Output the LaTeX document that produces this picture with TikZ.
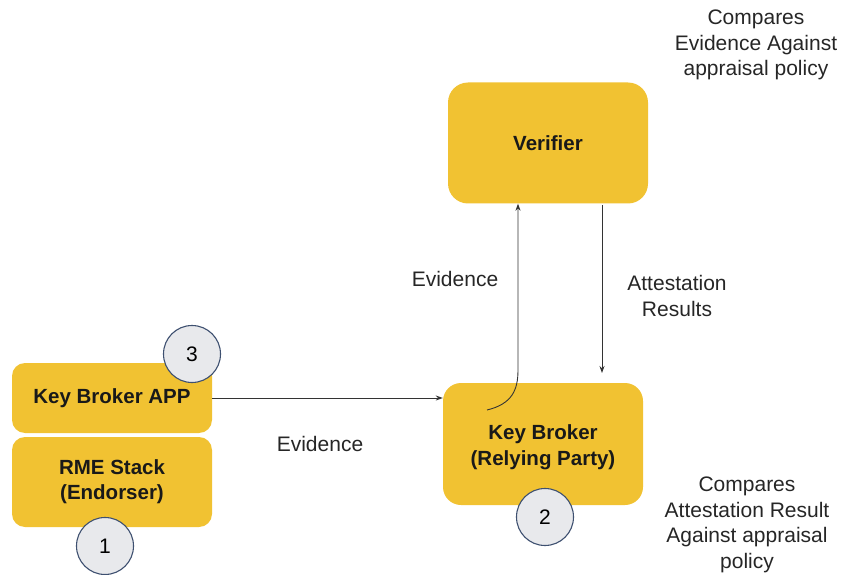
\documentclass[tikz,border=0pt]{standalone}
\usepackage{fontspec}
\setmainfont{Liberation Sans}
\usetikzlibrary{arrows.meta}
\definecolor{boxyellow}{HTML}{F1C232}
\definecolor{badgefill}{HTML}{E8E9EC}
\definecolor{badgeline}{HTML}{3E5070}
\definecolor{inkline}{HTML}{333333}
\tikzset{
  box/.style={fill=boxyellow, draw=none, rounded corners=13pt, font=\bfseries\fontsize{20.5}{25}\selectfont, align=center, inner sep=0pt, text=black!90},
  badge/.style={circle, fill=badgefill, draw=badgeline, line width=1.1pt, minimum size=57pt, inner sep=0pt, font=\fontsize{21}{25}\selectfont},
  lbl/.style={font=\fontsize{21}{25.5}\selectfont, align=center, text=black!85},
  flow/.style={draw=inkline, line width=0.9pt, -{Stealth[length=7pt,width=5pt]}}
}
\begin{document}
\begin{tikzpicture}[x=1pt,y=-1pt]
  \useasboundingbox (0,0) rectangle (844,575);
  % yellow blocks
  \node[box, minimum width=200pt, minimum height=70pt] (app) at (112,398) {Key Broker APP};
  \node[box, minimum width=200pt, minimum height=90pt] (rme) at (112,482) {RME Stack\\(Endorser)};
  \node[box, minimum width=200pt, minimum height=122pt, rounded corners=18pt] (kb) at (543,444) {};
  \node[font=\bfseries\fontsize{20.5}{25.5}\selectfont, align=center, text=black!90] (kbtext) at (543,447) {Key Broker\\(Relying Party)};
  \node[box, minimum width=200pt, minimum height=121pt, rounded corners=20pt] (ver) at (548,143) {Verifier};
  % numbered badges
  \node[badge] (b3) at (192,354) {3};
  \node[badge] (b1) at (105,546) {1};
  \node[badge] (b2) at (545,517) {2};
  % connectors
  \coordinate (kbin) at (487,410);
  \coordinate (evup) at (518,370);
  \draw[flow] (app.east) -- (kb.west |- app.east);
  \draw[flow] (kbin) .. controls (512,404) and (518,390) .. (evup) -- (evup |- ver.south);
  \coordinate (arstart) at (602,205);
  \coordinate (arend) at (602,373);
  \draw[flow] (arstart) -- (arend);
  % labels
  \node[lbl] (l1) at (320,444) {Evidence};
  \node[lbl] (l2) at (455,279) {Evidence};
  \node[lbl] (l3) at (677,296) {Attestation\\Results};
  \node[lbl] (l4) at (756,45) {Compares\\Evidence Against\\appraisal policy};
  \node[lbl] (l5) at (747,525) {Compares\\Attestation Result\\Against appraisal\\policy};
\end{tikzpicture}
\end{document}
